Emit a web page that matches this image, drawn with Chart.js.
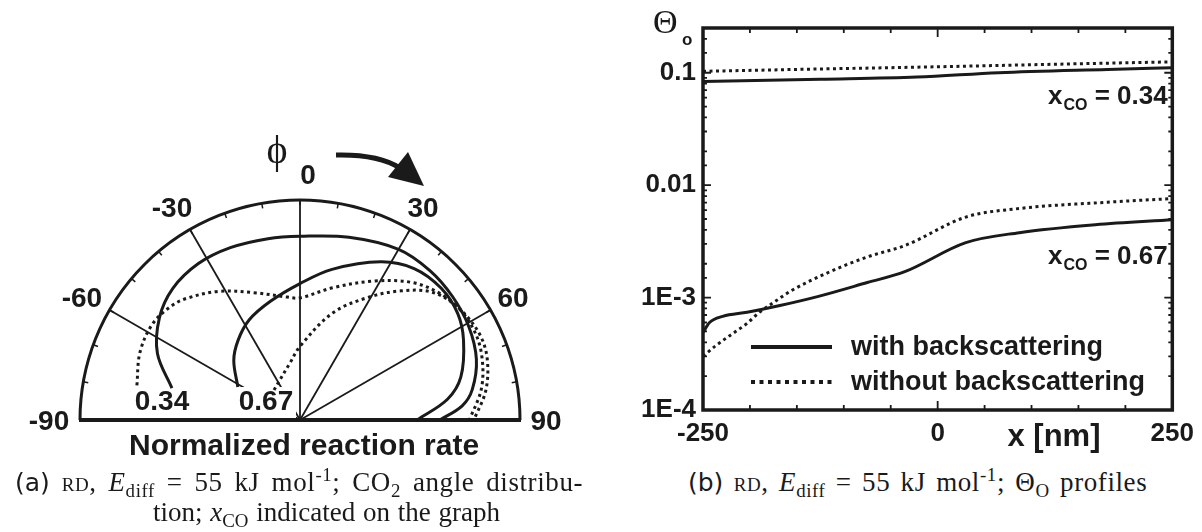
<!DOCTYPE html>
<html>
<head>
<meta charset="utf-8">
<script src="https://cdn.jsdelivr.net/npm/chart.js@4.4.1/dist/chart.umd.min.js"></script>
<style>
  body { margin: 0; background: #fff; width: 1202px; height: 532px; overflow: hidden; position: relative; }
  canvas { position: absolute; display: block; }
  #polar { left: 0; top: 0; }
  #profile { left: 600px; top: 0; }
  .axisTitle { position: absolute; font: bold 30px "Liberation Sans", Arial, sans-serif; color: #1a1a1a; white-space: nowrap; }
  .cap { position: absolute; font-family: "Liberation Serif", "Times New Roman", serif; font-size: 27px; letter-spacing: 0.6px; word-spacing: 3px; color: #1a1a1a; white-space: nowrap; line-height: 30px; }
  .cap.wide { word-spacing: 4.5px; }
  .cap.plain { letter-spacing: 0; word-spacing: 1px; }
  .cap .sf { font-family: "DejaVu Sans", "Open Sans", sans-serif; font-size: 25px; letter-spacing: 0; }
  .cap .sc { font-variant: small-caps; }
  .cap sub, .cap sup { font-size: 70%; line-height: 0; }
</style>
</head>
<body>
<canvas id="polar" width="600" height="430"></canvas>
<canvas id="profile" width="602" height="455"></canvas>
<div class="axisTitle" id="rateTitle" style="left:129px; top:428px;">Normalized reaction rate</div>
<div class="cap wide" style="left:15px; top:467px;"><span class="sf">(a)</span> <span class="sc">rd</span>, <i>E</i><sub>diff</sub> = 55 kJ mol<sup>-1</sup>; CO<sub>2</sub> angle distribu-</div>
<div class="cap plain" style="left:153px; top:497px;">tion; <i>x</i><sub>CO</sub> indicated on the graph</div>
<div class="cap" style="left:688px; top:467px;"><span class="sf">(b)</span> <span class="sc">rd</span>, <i>E</i><sub>diff</sub> = 55 kJ mol<sup>-1</sup>; &Theta;<sub>O</sub> profiles</div>
<script>
// ---- (a) CO2 angle distribution, phi in degrees, rate normalized to the outer circle
var phiSolid034 = [-76, -65, -54, -44, -33, -22, -10, 0, 15, 30, 41, 51, 61, 71, 80, 85, 90];
var rateSolid034 = [0.60, 0.715, 0.79, 0.832, 0.848, 0.845, 0.837, 0.835, 0.86, 0.896, 0.90, 0.892, 0.877, 0.848, 0.795, 0.74, 0.636];
var phiSolid067 = [-62, -48, -38, -27, -14, 0, 12, 27, 37, 47, 56, 64, 75, 82, 90];
var rateSolid067 = [0.32, 0.405, 0.458, 0.51, 0.556, 0.62, 0.70, 0.807, 0.862, 0.878, 0.865, 0.827, 0.757, 0.677, 0.532];
var phiDotted034 = [-78, -67, -57, -49, -43, -32, -20, -6, 0, 14, 28, 39, 48, 57, 65, 72, 81, 90];
var rateDotted034 = [0.758, 0.79, 0.80, 0.783, 0.756, 0.69, 0.616, 0.562, 0.555, 0.62, 0.715, 0.805, 0.858, 0.89, 0.905, 0.895, 0.855, 0.79];
var phiDotted067 = [-41, -27, -10, 0, 17, 29, 38, 46, 54, 62, 70, 80, 90];
var rateDotted067 = [0.18, 0.203, 0.263, 0.335, 0.509, 0.637, 0.745, 0.836, 0.879, 0.89, 0.878, 0.838, 0.77];
var angleTicks = [-90, -60, -30, 0, 30, 60, 90];
var spokeAngles = [-60, -30, 0, 30, 60];
var curveLabels = ['0.34', '0.67'];

// ---- (b) oxygen coverage profiles along x [nm]
var xWith034 = [-250, -125, -22, 65, 181, 250];
var thetaWith034 = [0.0835, 0.0875, 0.0915, 0.100, 0.107, 0.111];
var xWithout034 = [-250, -125, 0, 125, 250];
var thetaWithout034 = [0.103, 0.108, 0.113, 0.119, 0.125];
var xWith067 = [-250, -243, -229, -203, -168, -128, -75, -35, 30, 87, 168, 250];
var thetaWith067 = [4.9e-4, 6.0e-4, 6.8e-4, 7.4e-4, 8.5e-4, 1.02e-3, 1.36e-3, 1.70e-3, 3.08e-3, 3.78e-3, 4.45e-3, 4.92e-3];
var xWithout067 = [-250, -237, -223, -203, -190, -176, -156, -116, -75, -35, 30, 87, 181, 250];
var thetaWithout067 = [3.0e-4, 3.7e-4, 4.5e-4, 5.9e-4, 7.4e-4, 8.9e-4, 1.15e-3, 1.68e-3, 2.3e-3, 2.9e-3, 5.2e-3, 6.2e-3, 7.05e-3, 7.6e-3];
var xTickLabels = [-250, 0, 250];
var yTickValues = [1e-4, 1e-3, 0.01, 0.1];
var yTickLabels = ['1E-4', '1E-3', '0.01', '0.1'];
var seriesNames = ['with backscattering', 'without backscattering'];
var xcoLabels = ['0.34', '0.67'];

var ink = '#1a1a1a';
var boldFont = '"Liberation Sans", Arial, sans-serif';
var dots = [3, 3.5];

function rad(d) { return d * Math.PI / 180; }

function polarPoints(phis, rates) {
  return phis.map(function(p, i) {
    return { x: rates[i] * Math.sin(rad(p)), y: rates[i] * Math.cos(rad(p)) };
  });
}

function polarSet(phis, rates, dotted) {
  return {
    data: polarPoints(phis, rates),
    showLine: true,
    pointRadius: 0,
    borderColor: ink,
    borderWidth: 3,
    borderDash: dotted ? dots : [],
    tension: 0.35
  };
}

var polarDecor = {
  id: 'polarDecor',
  beforeDatasetsDraw: function(chart) {
    var ctx = chart.ctx, sx = chart.scales.x, sy = chart.scales.y;
    var cx = sx.getPixelForValue(0), cy = sy.getPixelForValue(0);
    var R = sx.getPixelForValue(1) - cx;
    ctx.save();
    ctx.strokeStyle = ink;
    ctx.fillStyle = ink;

    // spokes
    ctx.lineWidth = 1.8;
    spokeAngles.forEach(function(a) {
      ctx.beginPath();
      ctx.moveTo(cx, cy);
      ctx.lineTo(cx + R * Math.sin(rad(a)), cy - R * Math.cos(rad(a)));
      ctx.stroke();
    });

    // small inward ticks every 10 degrees
    ctx.lineWidth = 1.5;
    for (var a = -80; a <= 80; a += 10) {
      var s = Math.sin(rad(a)), c = Math.cos(rad(a));
      ctx.beginPath();
      ctx.moveTo(cx + R * s, cy - R * c);
      ctx.lineTo(cx + (R - 5) * s, cy - (R - 5) * c);
      ctx.stroke();
    }

    // outer half circle and baseline
    ctx.lineWidth = 3;
    ctx.beginPath();
    ctx.arc(cx, cy, R, Math.PI, 2 * Math.PI);
    ctx.stroke();
    ctx.lineWidth = 4;
    ctx.beginPath();
    ctx.moveTo(cx - R - 1, cy);
    ctx.lineTo(cx + R + 1, cy);
    ctx.stroke();

    // x_CO labels at the ends of the curves
    ctx.font = 'bold 28px ' + boldFont;
    ctx.textAlign = 'center';
    ctx.textBaseline = 'middle';
    var lx = [cx - 138, cx - 34];
    curveLabels.forEach(function(t, i) {
      ctx.fillStyle = '#fff';
      ctx.fillRect(lx[i] - 30, cy - 33, 60, 31);
      ctx.fillStyle = ink;
      ctx.fillText(t, lx[i], cy - 18);
    });
    ctx.restore();
  },
  afterDraw: function(chart) {
    var ctx = chart.ctx, sx = chart.scales.x, sy = chart.scales.y;
    var cx = sx.getPixelForValue(0), cy = sy.getPixelForValue(0);
    var R = sx.getPixelForValue(1) - cx;
    ctx.save();
    ctx.fillStyle = ink;
    ctx.strokeStyle = ink;
    ctx.font = 'bold 28px ' + boldFont;
    ctx.textAlign = 'center';
    ctx.textBaseline = 'middle';
    angleTicks.forEach(function(a) {
      var r = R + 26;
      var x = cx + r * Math.sin(rad(a)) + (a < 0 ? -5 : 0) + (a === 0 ? 8 : 0);
      var y = cy - r * Math.cos(rad(a)) + 2;
      ctx.fillText(String(a), x, y);
    });

    // phi symbol and rotation arrow
    ctx.font = '40px "Liberation Serif", "DejaVu Serif", serif';
    ctx.fillText('\u03D5', cx - 23, cy - 268);
    ctx.lineWidth = 5;
    ctx.beginPath();
    ctx.moveTo(cx + 36, cy - 265);
    ctx.quadraticCurveTo(cx + 78, cy - 266, cx + 100, cy - 252);
    ctx.stroke();
    ctx.beginPath();
    ctx.moveTo(cx + 124, cy - 234);
    ctx.lineTo(cx + 108, cy - 268);
    ctx.lineTo(cx + 88, cy - 243);
    ctx.closePath();
    ctx.fill();
    ctx.restore();
  }
};

new Chart(document.getElementById('polar'), {
  type: 'scatter',
  data: {
    datasets: [
      polarSet(phiSolid034, rateSolid034, false),
      polarSet(phiSolid067, rateSolid067, false),
      polarSet(phiDotted034, rateDotted034, true),
      polarSet(phiDotted067, rateDotted067, true)
    ]
  },
  options: {
    responsive: false,
    animation: false,
    layout: { padding: 0 },
    plugins: { legend: { display: false }, tooltip: { enabled: false } },
    scales: {
      x: { type: 'linear', display: false, min: -300 / 220, max: 300 / 220 },
      y: { type: 'linear', display: false, min: -10 / 220, max: 420 / 220 }
    }
  },
  plugins: [polarDecor]
});

// ---- profile chart
function xyPoints(xs, ys) {
  return xs.map(function(x, i) { return { x: x, y: ys[i] }; });
}

function profileSet(xs, ys, dotted) {
  return {
    data: xyPoints(xs, ys),
    borderColor: ink,
    borderWidth: 3,
    borderDash: dotted ? dots : [],
    pointRadius: 0,
    fill: false,
    cubicInterpolationMode: 'monotone'
  };
}

function isDecade(v) {
  var l = Math.log10(v);
  return Math.abs(l - Math.round(l)) < 1e-6;
}

var profileDecor = {
  id: 'profileDecor',
  afterDatasetsDraw: function(chart) {
    var ctx = chart.ctx, a = chart.chartArea, sx = chart.scales.x, sy = chart.scales.y;
    ctx.save();
    ctx.strokeStyle = ink;
    ctx.fillStyle = ink;
    ctx.lineWidth = 1.8;

    sx.ticks.forEach(function(t) {
      var px = sx.getPixelForValue(t.value);
      var len = t.value === 0 ? 9 : 5;
      ctx.beginPath();
      ctx.moveTo(px, a.top); ctx.lineTo(px, a.top + len);
      ctx.moveTo(px, a.bottom); ctx.lineTo(px, a.bottom - len);
      ctx.stroke();
    });
    sy.ticks.forEach(function(t) {
      if (t.value <= sy.min || t.value >= sy.max) return;
      var py = sy.getPixelForValue(t.value);
      var len = isDecade(t.value) ? 8 : 4;
      ctx.beginPath();
      ctx.moveTo(a.left, py); ctx.lineTo(a.left + len, py);
      ctx.moveTo(a.right, py); ctx.lineTo(a.right - len, py);
      ctx.stroke();
    });

    ctx.lineWidth = 3.5;
    ctx.strokeRect(a.left, a.top, a.right - a.left, a.bottom - a.top);

    // legend
    var lx0 = 151, lx1 = 232, ltx = 251;
    var ly = [347, 382];
    ctx.font = 'bold 27px ' + boldFont;
    ctx.textBaseline = 'middle';
    ctx.textAlign = 'left';
    seriesNames.forEach(function(name, i) {
      ctx.lineWidth = 4;
      ctx.setLineDash(i === 0 ? [] : [4, 4.5]);
      ctx.beginPath();
      ctx.moveTo(lx0, ly[i]); ctx.lineTo(lx1, ly[i]);
      ctx.stroke();
      ctx.setLineDash([]);
      ctx.fillText(name, ltx, ly[i] + 1);
    });

    // x_CO annotations
    var ay = [104, 264];
    xcoLabels.forEach(function(v, i) {
      var x = 448;
      ctx.font = 'bold 26px ' + boldFont;
      ctx.textBaseline = 'alphabetic';
      ctx.fillText('x', x, ay[i]);
      x += ctx.measureText('x').width + 1;
      ctx.font = 'bold 16px ' + boldFont;
      ctx.fillText('CO', x, ay[i] + 6);
      x += ctx.measureText('CO').width;
      ctx.font = 'bold 26px ' + boldFont;
      ctx.fillText(' = ' + v, x, ay[i]);
    });

    // axis titles
    ctx.font = 'bold 31px ' + boldFont;
    ctx.textAlign = 'center';
    ctx.textBaseline = 'middle';
    ctx.fillText('x [nm]', 454, 437);
    ctx.textAlign = 'left';
    ctx.textBaseline = 'alphabetic';
    ctx.font = '34px "Liberation Serif", serif';
    ctx.fillText('\u0398', 53, 33);
    ctx.font = 'bold 17px ' + boldFont;
    ctx.fillText('o', 82, 45);
    ctx.restore();
  }
};

var tickFont = { family: boldFont, size: 26, weight: 'bold' };

new Chart(document.getElementById('profile'), {
  type: 'line',
  data: {
    datasets: [
      profileSet(xWith034, thetaWith034, false),
      profileSet(xWithout034, thetaWithout034, true),
      profileSet(xWith067, thetaWith067, false),
      profileSet(xWithout067, thetaWithout067, true)
    ]
  },
  options: {
    responsive: false,
    animation: false,
    layout: { padding: { top: 28, right: 27, left: 0, bottom: 0 } },
    plugins: { legend: { display: false }, tooltip: { enabled: false } },
    scales: {
      x: {
        type: 'linear', min: -250, max: 250,
        grid: { display: false, drawTicks: false },
        border: { display: false },
        ticks: {
          stepSize: 50, autoSkip: false, maxRotation: 0, padding: 8,
          color: ink, font: tickFont,
          callback: function(v) { return xTickLabels.indexOf(v) >= 0 ? String(v) : ''; }
        },
        afterFit: function(s) { s.height = 45; }
      },
      y: {
        type: 'logarithmic', min: 1e-4, max: 0.25,
        grid: { display: false, drawTicks: false },
        border: { display: false },
        ticks: {
          autoSkip: false, padding: 7, color: ink, font: tickFont,
          callback: function(v) {
            for (var i = 0; i < yTickValues.length; i++) {
              if (Math.abs(v - yTickValues[i]) / yTickValues[i] < 1e-6) return yTickLabels[i];
            }
            return '';
          }
        },
        afterFit: function(s) { s.width = 103; }
      }
    }
  },
  plugins: [profileDecor]
});
</script>
</body>
</html>
